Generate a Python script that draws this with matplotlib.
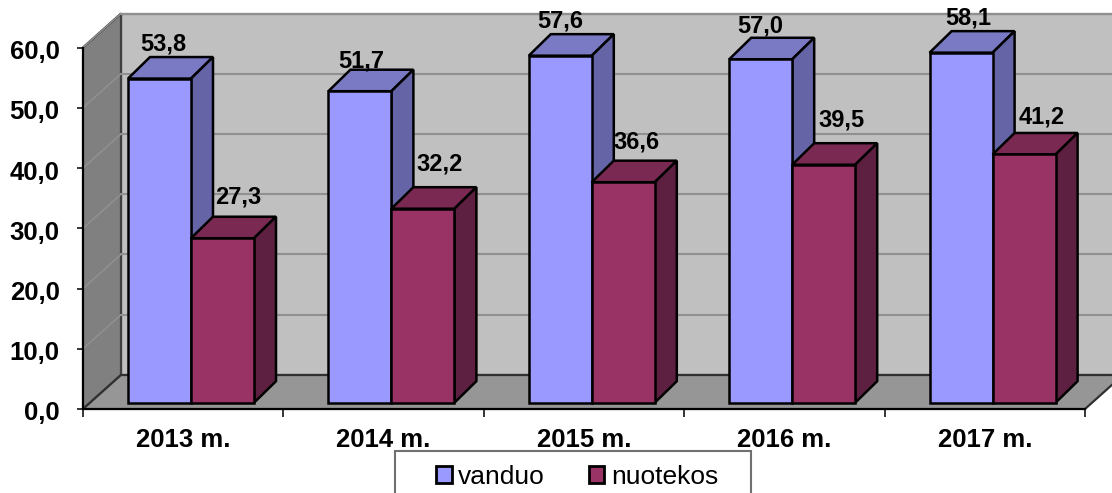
import matplotlib
matplotlib.use("Agg")
import matplotlib.pyplot as plt
from matplotlib.patches import Patch, Polygon, Rectangle
from matplotlib.transforms import ScaledTranslation

plt.rcParams['font.family'] = ['Liberation Sans', 'DejaVu Sans']

# data
years = ["2013 m.", "2014 m.", "2015 m.", "2016 m.", "2017 m."]
vanduo = [53.8, 51.7, 57.6, 57.0, 58.1]
nuotekos = [27.3, 32.2, 36.6, 39.5, 41.2]
y_labels = ["0,0", "10,0", "20,0", "30,0", "40,0", "50,0", "60,0"]

# label nudges in pixels, the labels were moved by hand in the original
nudge_v = [(4, 13), (1, 9), (0, 13), (0, 12), (7, 13)]
nudge_n = [(16, 20), (17, 23), (13, 19), (18, 23), (18, 16)]

W, H = 1112, 493
fig = plt.figure(figsize=(W / 100, H / 100), dpi=100, facecolor="white")

# front plane of the chart in pixels
left, right, top, bottom = 83, 1085, 47.5, 409
ax = fig.add_axes([left / W, (H - bottom) / H, (right - left) / W, (bottom - top) / H])
ax.set_xlim(0, 5)
ax.set_ylim(0, 60)
ax.patch.set_visible(False)

px = 5 / (right - left)  # one pixel in x units
py = 60 / (bottom - top)  # one pixel in y units

# depth of the box and of the bars
box_dx, box_dy = 38 * px, 34 * py
bar_dx, bar_dy = 22 * px, 21.5 * py
base = 6.3 * py
start = 45 * px
bar_w = 63 * px


def face(pts, color, z, edge="black", lw=1.8):
    ax.add_patch(Polygon(pts, closed=True, facecolor=color, edgecolor=edge,
                         linewidth=lw, zorder=z, clip_on=False, joinstyle="miter"))


# walls and floor
face([(box_dx, box_dy), (5 + box_dx, box_dy), (5 + box_dx, 60 + box_dy), (box_dx, 60 + box_dy)],
     "#C0C0C0", 1, "#707070", 1.6)
face([(0, 0), (box_dx, box_dy), (box_dx, 60 + box_dy), (0, 60)], "#808080", 1, "#404040", 1.6)
face([(0, 0), (5, 0), (5 + box_dx, box_dy), (box_dx, box_dy)], "#969696", 2, "#303030", 1.6)

for v in range(10, 70, 10):
    ax.plot([box_dx, 5 + box_dx], [v + box_dy, v + box_dy], color="#909090", lw=1.5, zorder=1.5, clip_on=False)
    ax.plot([0, box_dx], [v, v + box_dy], color="#929292", lw=1.0, zorder=1.5, clip_on=False)


def bars(x0, values, front, top_c, side_c, z):
    for i, v in enumerate(values):
        x = i + x0
        y = base + v
        face([(x, y), (x + bar_w, y), (x + bar_w + bar_dx, y + bar_dy), (x + bar_dx, y + bar_dy)], top_c, z)
        face([(x + bar_w, base), (x + bar_w + bar_dx, base + bar_dy),
              (x + bar_w + bar_dx, y + bar_dy), (x + bar_w, y)], side_c, z)
    ax.bar([i + x0 for i in range(len(values))], values, width=bar_w, bottom=base, align="edge",
           color=front, edgecolor="black", linewidth=1.8, zorder=z + 0.1, clip_on=False)


bars(start, vanduo, "#9999FF", "#7A7AC4", "#6464A6", 3)
bars(start + bar_w, nuotekos, "#993366", "#7A2952", "#5E2040", 4)

# value labels
for i, v in enumerate(vanduo):
    ax.text(i + start + bar_w / 2 + nudge_v[i][0] * px, base + v + bar_dy + nudge_v[i][1] * py,
            f"{v:.1f}".replace(".", ","), ha="center", va="center", fontsize=17,
            fontweight="bold", zorder=6, clip_on=False)
for i, v in enumerate(nuotekos):
    ax.text(i + start + bar_w * 1.5 + nudge_n[i][0] * px, base + v + bar_dy + nudge_n[i][1] * py,
            f"{v:.1f}".replace(".", ","), ha="center", va="center", fontsize=17,
            fontweight="bold", zorder=6, clip_on=False)

# axes
for s in ("top", "right"):
    ax.spines[s].set_visible(False)
for s in ("left", "bottom"):
    ax.spines[s].set_linewidth(1.5)
    ax.spines[s].set_zorder(5)
ax.set_yticks(range(0, 70, 10))
ax.set_yticklabels(y_labels, fontsize=18.5, fontweight="bold")
ax.set_xticks(range(6))
ax.set_xticklabels([])
ax.set_xticks([i + 0.5 for i in range(5)], minor=True)
ax.set_xticklabels(years, minor=True, fontsize=18.5, fontweight="bold")
ax.tick_params(axis="y", length=4.5, width=1.1, pad=12.4)
ax.tick_params(axis="x", which="major", length=6, width=1.1)
ax.tick_params(axis="x", which="minor", length=0, pad=13.5)
for lab in ax.get_yticklabels():
    lab.set_transform(lab.get_transform() + ScaledTranslation(0, -2 / 100, fig.dpi_scale_trans))

# legend box runs off the bottom of the picture
fig.add_artist(Rectangle((395 / W, -0.02), 356 / W, (H - 451) / H + 0.02, transform=fig.transFigure,
                         facecolor="white", edgecolor="#707070", linewidth=1.5))
handles = [Patch(facecolor="#9999FF", edgecolor="black", linewidth=2.0),
           Patch(facecolor="#993366", edgecolor="black", linewidth=2.0)]
fig.legend(handles, ["vanduo", "nuotekos"], loc="center", bbox_to_anchor=(577 / W, (H - 477) / H),
           ncol=2, frameon=False, fontsize=19, handlelength=0.6, handleheight=0.6,
           handletextpad=0.25, columnspacing=1.65, borderpad=0, borderaxespad=0)

fig.savefig("out.png", dpi=100)
